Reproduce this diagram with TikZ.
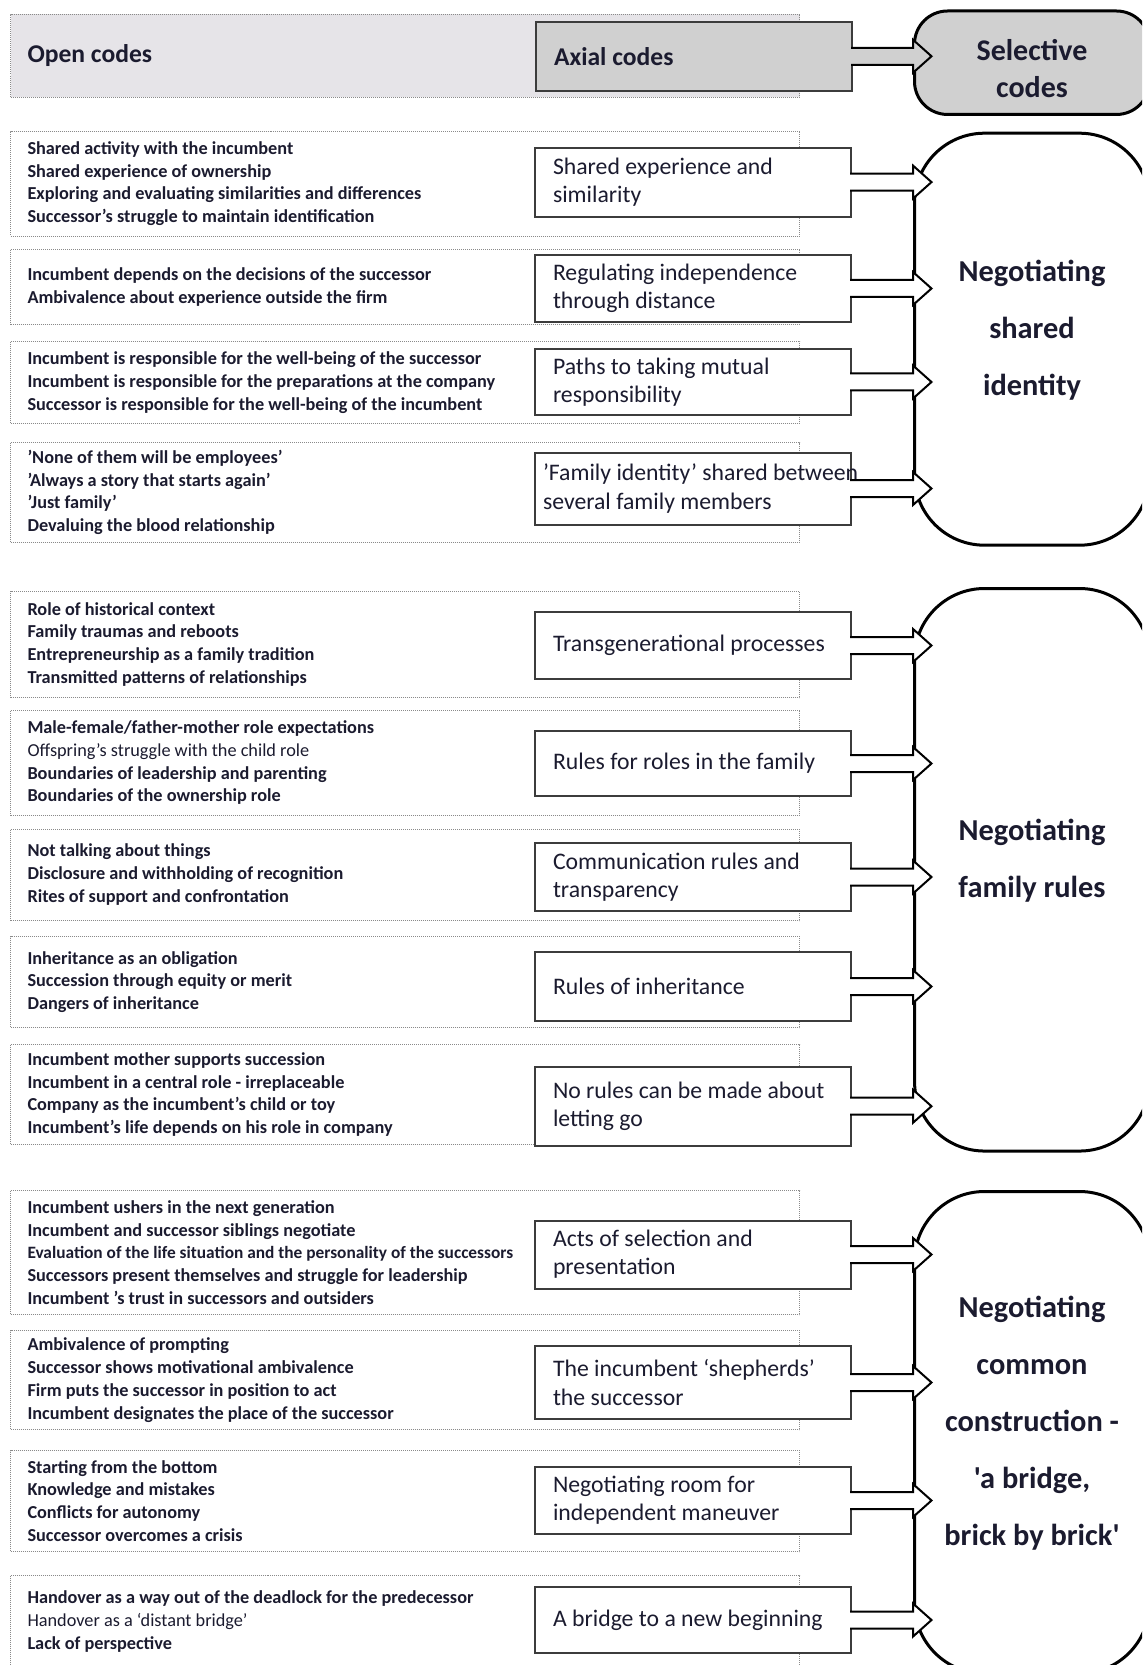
\documentclass[tikz,border=0pt]{standalone}
\usepackage{fontspec}
\setmainfont{Carlito}[Ligatures=TeXOff]
\usepackage{tikz}
\tikzset{>=latex}
\usetikzlibrary{calc}
\definecolor{ink}{HTML}{1B1B2F}
\definecolor{hdrfill}{HTML}{E6E4E8}
\definecolor{hdrgray}{HTML}{D0D0D0}
\definecolor{dotgray}{HTML}{8A8A8A}
\definecolor{boxline}{HTML}{3C3C3C}

\newcommand{\openfont}{\fontsize{13.7pt}{17.1pt}\selectfont\bfseries}
\newcommand{\axialfont}{\fontsize{17.8pt}{21.2pt}\selectfont}
\newcommand{\headfont}{\fontsize{19.2pt}{24pt}\selectfont\bfseries}
\newcommand{\selfont}{\fontsize{22.8pt}{42.75pt}\selectfont\bfseries}
\newcommand{\selheadfont}{\fontsize{22.5pt}{27.75pt}\selectfont\bfseries}

\tikzset{
    openbox/.style={draw=dotgray, line width=0.75pt, dash pattern=on 0.75pt off 0.75pt, anchor=north west, minimum width=591.75pt, inner xsep=12.75pt, inner ysep=2pt, text width=566.25pt, align=flush left, font=\openfont, text=ink},
    axialbox/.style={draw=boxline, line width=1.5pt, fill=white, anchor=north west, minimum width=237pt, inner xsep=13.5pt, inner ysep=2pt, text width=210pt, align=flush left, font=\axialfont, text=ink},
    selbox/.style={draw=black, line width=2.25pt, fill=white, rounded corners=52.5pt, anchor=north west, minimum width=176.25pt},
    sellabel/.style={font=\selfont, text=ink, align=center, yshift=6.75pt},
    codearrow/.style={draw=black, line width=1.5pt, line join=miter}
}

\newcommand{\codearrow}[3][white]{%
    \filldraw[codearrow, fill=#1] ($(#2.east)+(-2,-8.5)$) -- ($(#2.east -| #3.west)+(0,-8.5)$) -- ++(0,-8) -- ($(#2.east -| #3.west)+(18.5,0)$) -- ($(#2.east -| #3.west)+(0,16.5)$) -- ++(0,-8) -- ($(#2.east)+(-2,8.5)$);}

\begin{document}
\begin{tikzpicture}[x=0.75pt, y=-0.75pt]
            \useasboundingbox (0,0) rectangle (1142,1665);
            \clip (0,0) rectangle (1142,1665);

            \node[openbox, fill=hdrfill, minimum height=62.25pt, font=\headfont] (openhead) at (10,14) {Open codes};
            \node[axialbox, fill=hdrgray, minimum height=51.4pt, font=\headfont] (axialhead) at (535,21) {Axial codes};
            \node[selbox, fill=hdrgray, rounded corners=24.75pt, minimum height=77.6pt, label={[sellabel, font=\selheadfont, yshift=-11.25pt]center:Selective\\codes}] (selhead) at (913,9.5) {};

            \node[openbox, minimum height=78.75pt] (open1) at (10,130.7) {Shared activity with the incumbent\\Shared experience of ownership\\Exploring and evaluating similarities and differences\\Successor’s struggle to maintain identification};
            \node[openbox, minimum height=56.55pt] (open2) at (10,248.6) {Incumbent depends on the decisions of the successor\\Ambivalence about experience outside the firm};
            \node[openbox, minimum height=61.5pt] (open3) at (10,341) {Incumbent is responsible for the well-being of the successor\\Incumbent is responsible for the preparations at the company\\Successor is responsible for the well-being of the incumbent};
            \node[openbox, minimum height=75pt] (open4) at (10,442) {’None of them will be employees’\\’Always a story that starts again’\\’Just family’\\Devaluing the blood relationship};
            \node[openbox, minimum height=79.8pt] (open5) at (10,590.6) {Role of historical context\\Family traumas and reboots\\Entrepreneurship as a family tradition\\Transmitted patterns of relationships};
            \node[openbox, minimum height=78.9pt] (open6) at (10,709.6) {Male-female/father-mother role expectations\\{\mdseries Offspring’s struggle with the child role}\\Boundaries of leadership and parenting\\Boundaries of the ownership role};
            \node[openbox, minimum height=68.55pt] (open7) at (10,828.6) {Not talking about things\\Disclosure and withholding of recognition\\Rites of support and confrontation};
            \node[openbox, minimum height=68.25pt] (open8) at (10,936) {Inheritance as an obligation\\Succession through equity or merit\\Dangers of inheritance};
            \node[openbox, minimum height=75pt] (open9) at (10,1044) {Incumbent mother supports succession\\Incumbent in a central role - irreplaceable\\Company as the incumbent’s child or toy\\Incumbent’s life depends on his role in company};
            \node[openbox, minimum height=93pt] (open10) at (10,1190) {Incumbent ushers in the next generation\\Incumbent and successor siblings negotiate\\{\fontsize{13pt}{17.1pt}\selectfont Evaluation of the life situation and the personality of the successors}\\Successors present themselves and struggle for leadership\\Incumbent ’s trust in successors and outsiders};
            \node[openbox, minimum height=74.25pt] (open11) at (10,1330) {Ambivalence of prompting\\Successor shows motivational ambivalence\\Firm puts the successor in position to act\\Incumbent designates the place of the successor};
            \node[openbox, minimum height=75.75pt] (open12) at (10,1450) {Starting from the bottom\\Knowledge and mistakes\\Conflicts for autonomy\\Successor overcomes a crisis};
            \node[openbox, minimum height=69pt] (open13) at (10,1575) {Handover as a way out of the deadlock for the predecessor\\{\mdseries Handover as a ‘distant bridge’}\\Lack of perspective};

            \node[axialbox, minimum height=51.75pt] (axial1) at (534,146.6) {Shared experience and\\similarity};
            \node[axialbox, minimum height=50.25pt] (axial2) at (534,254) {Regulating independence\\through distance};
            \node[axialbox, minimum height=49.5pt] (axial3) at (534,348) {Paths to taking mutual\\responsibility};
            \node[axialbox, minimum height=54pt, inner xsep=6pt, text width=225pt] (axial4) at (534,451.5) {\mbox{’Family identity’ shared between}\\several family members};
            \node[axialbox, minimum height=50.25pt] (axial5) at (534,611) {Transgenerational processes};
            \node[axialbox, minimum height=48.75pt] (axial6) at (534,730) {Rules for roles in the family};
            \node[axialbox, minimum height=51pt] (axial7) at (534,842) {Communication rules and\\transparency};
            \node[axialbox, minimum height=51.75pt] (axial8) at (534,951) {Rules of inheritance};
            \node[axialbox, minimum height=59.6pt] (axial9) at (534,1065.5) {No rules can be made about\\letting go};
            \node[axialbox, minimum height=51pt] (axial10) at (534,1219.5) {Acts of selection and\\presentation};
            \node[axialbox, minimum height=54.75pt] (axial11) at (534,1345) {The incumbent ‘shepherds’\\the successor};
            \node[axialbox, minimum height=50.25pt] (axial12) at (534,1466) {Negotiating room for\\independent maneuver};
            \node[axialbox, minimum height=49.5pt] (axial13) at (534,1586) {A bridge to a new beginning};

            \node[selbox, minimum height=309pt, label={[sellabel]center:Negotiating\\shared\\identity}] (sel1) at (913,131.7) {};
            \node[selbox, minimum height=421.9pt, label={[sellabel]center:Negotiating\\family rules}] (sel2) at (913,587) {};
            \node[selbox, minimum height=361.5pt, label={[sellabel]center:{Negotiating\\common\\construction -\\'a bridge,\\brick by brick'}}] (sel3) at (913,1190) {};

            \codearrow[hdrgray]{axialhead}{selhead}
            \codearrow{axial1}{sel1}
            \codearrow{axial2}{sel1}
            \codearrow{axial3}{sel1}
            \codearrow{axial4}{sel1}
            \codearrow{axial5}{sel2}
            \codearrow{axial6}{sel2}
            \codearrow{axial7}{sel2}
            \codearrow{axial8}{sel2}
            \codearrow{axial9}{sel2}
            \codearrow{axial10}{sel3}
            \codearrow{axial11}{sel3}
            \codearrow{axial12}{sel3}
            \codearrow{axial13}{sel3}
        \end{tikzpicture}
\end{document}
